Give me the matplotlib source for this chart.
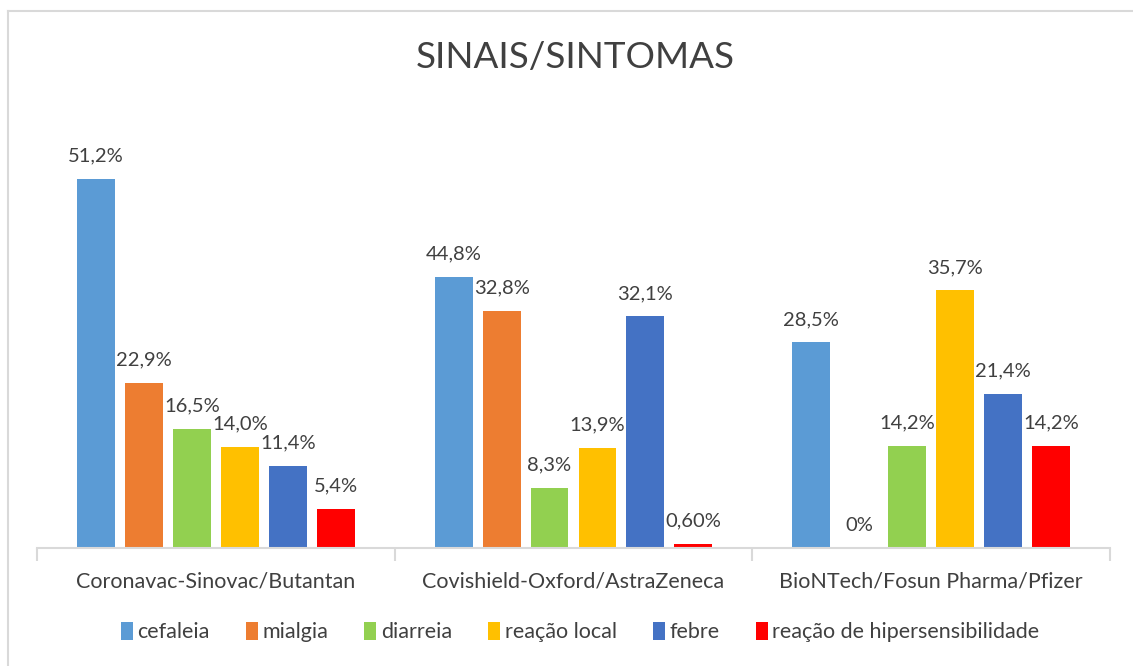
import numpy as np
import matplotlib.pyplot as plt
from matplotlib.lines import Line2D

plt.rcParams['font.family'] = ['Lato', 'DejaVu Sans']

# Dados
vacinas = ['Coronavac-Sinovac/Butantan', 'Covishield-Oxford/AstraZeneca',
           'BioNTech/Fosun Pharma/Pfizer']
sintomas = ['cefaleia', 'mialgia', 'diarreia', 'reação local', 'febre',
            'reação de hipersensibilidade']
# alturas das barras (%)
cefaleia = [51.2, 37.6, 28.5]
mialgia = [22.9, 32.8, 0.0]
diarreia = [16.5, 8.3, 14.2]
reacao_local = [14.0, 13.9, 35.7]
febre = [11.4, 32.1, 21.4]
hipersens = [5.4, 0.6, 14.2]
# rótulos como aparecem no gráfico
rot_cefaleia = ['51,2%', '44,8%', '28,5%']
rot_mialgia = ['22,9%', '32,8%', '0%']
rot_diarreia = ['16,5%', '8,3%', '14,2%']
rot_reacao_local = ['14,0%', '13,9%', '35,7%']
rot_febre = ['11,4%', '32,1%', '21,4%']
rot_hipersens = ['5,4%', '0,60%', '14,2%']

series = [cefaleia, mialgia, diarreia, reacao_local, febre, hipersens]
rotulos = [rot_cefaleia, rot_mialgia, rot_diarreia, rot_reacao_local,
           rot_febre, rot_hipersens]
cores = ['#5B9BD5', '#ED7D31', '#92D050', '#FFC000', '#4472C4', '#FF0000']
cinza = '#404040'

W, H = 1133, 666
fig = plt.figure(figsize=(W / 100, H / 100), dpi=100)
ax = fig.add_axes([37 / W, (H - 548) / H, (1110 - 37) / W, 433 / H])

x = np.arange(len(vacinas))
passo = 0.134
larg = 0.106
for i, (vals, rots, cor) in enumerate(zip(series, rotulos, cores)):
    pos = x + (i - 2.5) * passo
    ax.bar(pos, vals, width=larg, color=cor, label=sintomas[i])
    for p, v, r in zip(pos, vals, rots):
        ax.text(p, v + 2.0, r, ha='center', va='bottom', fontsize=14.5,
                color=cinza)

ax.set_xlim(-0.5, 2.5)
ax.set_ylim(0, 60)
ax.set_yticks([])
for s in ['top', 'right', 'left']:
    ax.spines[s].set_visible(False)
ax.spines['bottom'].set_color('#D9D9D9')
ax.spines['bottom'].set_linewidth(1.5)
ax.set_xticks([-0.5, 0.5, 1.5, 2.5])
ax.set_xticklabels([])
ax.tick_params(axis='x', length=9, width=1.5, color='#D9D9D9')
for xi, nome in zip(x, vacinas):
    ax.text(xi, -4.6, nome, ha='center', va='center', fontsize=15.5,
            color=cinza)

fig.text(575 / W, 1 - 58 / H, 'SINAIS/SINTOMAS', ha='center', va='center',
         fontsize=26.5, color=cinza)

leg = fig.legend(loc='center', bbox_to_anchor=(580 / W, 1 - 632 / H),
                 ncol=6, frameon=False, fontsize=15.5, handlelength=0.55,
                 handleheight=0.9, handletextpad=0.2, columnspacing=1.7)
for t in leg.get_texts():
    t.set_color(cinza)

# moldura (só esquerda e topo visíveis)
borda = '#D9D9D9'
fig.lines.append(Line2D([8 / W, 8 / W], [0, 1 - 11 / H], transform=fig.transFigure,
                        color=borda, linewidth=1.5))
fig.lines.append(Line2D([8 / W, 1], [1 - 11 / H, 1 - 11 / H], transform=fig.transFigure,
                        color=borda, linewidth=1.5))

fig.savefig('out.png', dpi=100)
